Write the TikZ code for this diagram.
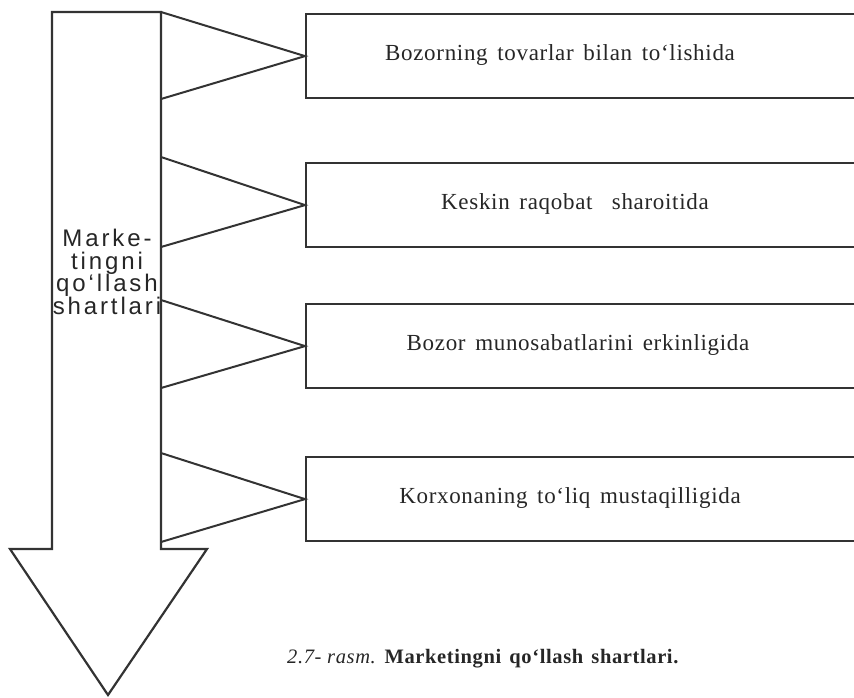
\documentclass[tikz,border=0pt]{standalone}
\usepackage{fontspec}
\setmainfont{Liberation Serif}[LetterSpace=3]
\newfontfamily\boxfont[LetterSpace=3]{Liberation Serif}
\newfontfamily\shaftfont[LetterSpace=12]{Liberation Sans}
\definecolor{ink}{HTML}{333333}
\definecolor{txt}{HTML}{262626}
\newcommand{\gap}{\hspace{0.42em}}
\tikzset{
  outline/.style={draw=ink, line width=2.2pt, line join=miter},
  condbox/.style={outline, rectangle, anchor=north west, minimum width=600pt, minimum height=84pt, inner sep=0pt},
  condtext/.style={text=txt, font=\boxfont\fontsize{23}{26}\selectfont, inner sep=0pt, anchor=base},
  spoke/.style={draw=ink, line width=2pt},
}
\begin{document}
\begin{tikzpicture}[x=1pt, y=-1pt]
  \useasboundingbox (0,0) rectangle (854,697);
  \clip (0,0) rectangle (854,697);

  % big downward arrow
  \draw[outline] (52,549) -- (52,12) -- (161,12) -- (161,549) -- (207,549)
    -- (108,695) -- (10,549) -- cycle;
  \node[text=txt, align=center, inner sep=0pt,
        font=\shaftfont\fontsize{24}{22.5}\selectfont] (head) at (107,272)
    {Marke-\\tingni\\qo‘llash\\shartlari};

  % condition boxes
  \node[condbox] (b1) at (305,13) {};
  \node[condbox] (b2) at (305,162) {};
  \node[condbox] (b3) at (305,303) {};
  \node[condbox] (b4) at (305,456) {};

  \node[condtext] (t1) at (560,60) {Bozorning\gap tovarlar\gap bilan\gap to‘lishida};
  \node[condtext] (t2) at (575,209) {Keskin\gap raqobat\gap\gap sharoitida};
  \node[condtext] (t3) at (578,350) {Bozor\gap munosabatlarini\gap erkinligida};
  \node[condtext] (t4) at (570,503) {Korxonaning\gap to‘liq\gap mustaqilligida};

  % spoke ends on the arrow shaft
  \coordinate (s1a) at (161,12);  \coordinate (s1b) at (161,99);
  \coordinate (s2a) at (161,157); \coordinate (s2b) at (161,247);
  \coordinate (s3a) at (161,300); \coordinate (s3b) at (161,388);
  \coordinate (s4a) at (161,453); \coordinate (s4b) at (161,542);

  \draw[spoke] (s1a) -- (b1.west) -- (s1b);
  \draw[spoke] (s2a) -- (b2.west) -- (s2b);
  \draw[spoke] (s3a) -- (b3.west) -- (s3b);
  \draw[spoke] (s4a) -- (b4.west) -- (s4b);

  % caption
  \node[text=txt, inner sep=0pt, anchor=base west, font=\fontsize{20.5}{22}\selectfont] (cap) at (287,663)
    {\textit{2.7- rasm.}\hspace{0.4em}\textbf{Marketingni\hspace{0.4em}qo‘llash\hspace{0.4em}shartlari.}};
\end{tikzpicture}
\end{document}
